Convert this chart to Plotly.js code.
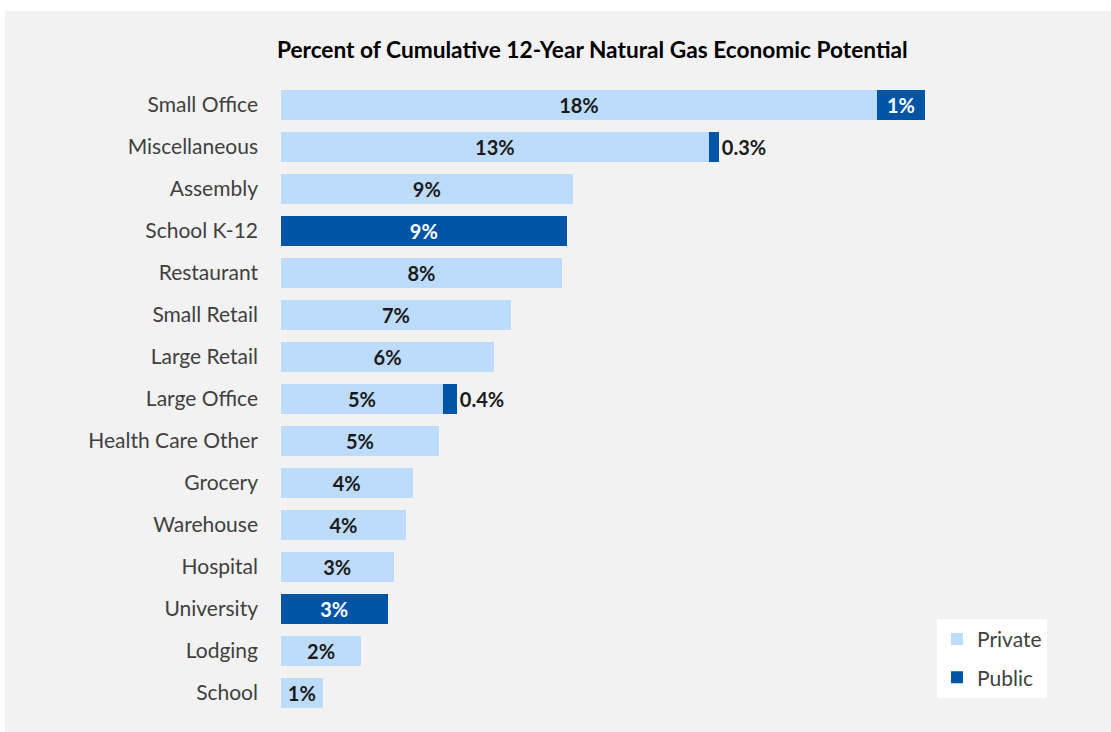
<!DOCTYPE html>
<html>
<head>
<meta charset="utf-8">
<script src="https://cdn.plot.ly/plotly-3.0.1.min.js"></script>
<style>
html,body{margin:0;padding:0;background:#ffffff;}
#chart{position:absolute;left:5px;top:11px;width:1106px;height:721px;}
</style>
</head>
<body>
<div id="chart"></div>
<script>
const categories = ["Small Office","Miscellaneous","Assembly","School K-12","Restaurant","Small Retail","Large Retail","Large Office","Health Care Other","Grocery","Warehouse","Hospital","University","Lodging","School"];
const privateValues = [17.9, 12.85, 8.76, 0, 8.44, 6.91, 6.40, 4.86, 4.74, 3.95, 3.75, 3.38, 0, 2.41, 1.25];
const publicValues  = [1.44, 0.30, 0, 8.58, 0, 0, 0, 0.42, 0, 0, 0, 0, 3.20, 0, 0];

function fmt(v){ if(!v) return ""; return v >= 1 ? Math.round(v) + "%" : v.toFixed(1) + "%"; }

const FONT = "Lato, 'Open Sans', sans-serif";
const lightBlue = "#bddcfc";
const darkBlue = "#0054a6";

const privateTrace = {
  type: "bar", orientation: "h", name: "Private",
  y: categories, x: privateValues,
  text: privateValues.map(fmt),
  textposition: "inside", insidetextanchor: "middle", textangle: 0,
  constraintext: "none",
  textfont: {family: FONT, size: 20, color: "#1a1a1a", weight: "bold"},
  marker: {color: lightBlue, line: {width: 0}},
  legendgroup: "a", hoverinfo: "x+y"
};
const publicTrace = {
  type: "bar", orientation: "h", name: "Public",
  y: categories, x: publicValues,
  text: publicValues.map(fmt),
  textposition: publicValues.map(v => v > 0 && v < 1 ? "outside" : "inside"),
  insidetextanchor: "middle", textangle: 0, constraintext: "none", cliponaxis: false,
  insidetextfont: {family: FONT, size: 20, color: "#ffffff", weight: "bold"},
  outsidetextfont: {family: FONT, size: 20, color: "#1a1a1a", weight: "bold"},
  marker: {color: darkBlue, line: {width: 0}},
  legendgroup: "b", hoverinfo: "x+y"
};

const layout = {
  width: 1106, height: 721,
  paper_bgcolor: "#f2f2f2", plot_bgcolor: "#f2f2f2",
  margin: {l: 276, r: 31, t: 73, b: 18},
  barmode: "stack", bargap: 0.29,
  font: {family: FONT, color: "#404040"},
  title: {text: "Percent of Cumulative 12-Year Natural Gas Economic Potential",
          font: {family: FONT, size: 22.7, color: "#000000", weight: "bold"},
          x: 0.531, xanchor: "center", xref: "container", y: 0.946, yanchor: "middle"},
  xaxis: {range: [0, 24], showgrid: false, zeroline: false, showticklabels: false, showline: false, ticks: "", fixedrange: true},
  yaxis: {categoryorder: "array", categoryarray: categories, autorange: "reversed",
          showgrid: false, zeroline: false, showline: false, ticks: "",
          ticklabelstandoff: 22,
          tickfont: {family: FONT, size: 21, color: "#404040"}},
  legend: {x: 0.821, xanchor: "left", y: 0.151, yanchor: "top",
           bgcolor: "#ffffff", borderwidth: 0,
           traceorder: "grouped", tracegroupgap: 8,
           font: {family: FONT, size: 21, color: "#404040"}},
  showlegend: true
};

Plotly.newPlot("chart", [privateTrace, publicTrace], layout, {displayModeBar: false, staticPlot: true});
</script>
</body>
</html>
